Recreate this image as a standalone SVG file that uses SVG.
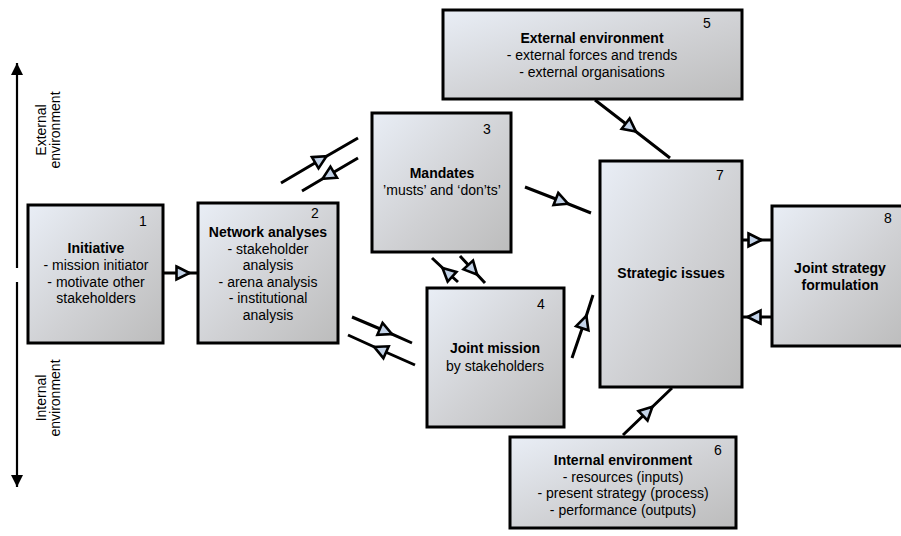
<svg xmlns="http://www.w3.org/2000/svg" width="901" height="536" viewBox="0 0 901 536">
  <style>
    .box { stroke: #000; stroke-width: 3; fill: url(#boxFill); }
    .t { font-family: "Liberation Sans", Arial, sans-serif; font-size: 14px; fill: #000; text-anchor: middle; }
    .b { font-weight: bold; }
    .num { font-family: "Liberation Sans", Arial, sans-serif; font-size: 14px; fill: #000; text-anchor: middle; }
    .side { font-family: "Liberation Sans", Arial, sans-serif; font-size: 14px; fill: #000; text-anchor: middle; }
    .conn { fill: none; stroke: #000; stroke-width: 3; marker-mid: url(#tri); }
    .axis { fill: none; stroke: #000; stroke-width: 2.2; }
  </style>
  <defs>
    <linearGradient id="boxFill" x1="0" y1="0" x2="1" y2="1">
      <stop offset="0" stop-color="#e9eef6"/>
      <stop offset="0.55" stop-color="#d0d1d4"/>
      <stop offset="1" stop-color="#bcbcbc"/>
    </linearGradient>
    <!-- open mid-line arrowhead -->
    <marker id="tri" viewBox="-10 -10 20 20" markerWidth="20" markerHeight="20" refX="0" refY="0" orient="auto" markerUnits="userSpaceOnUse" overflow="visible">
      <path d="M -5.5 -6.5 L 7.5 0 L -5.5 6.5 Z" fill="#c3d3e8" stroke="#000" stroke-width="2.6" stroke-linejoin="miter"/>
    </marker>
    <!-- solid axis arrowhead -->
    <marker id="solid" viewBox="-6 -6 12 12" markerWidth="12" markerHeight="12" refX="0" refY="0" orient="auto" markerUnits="userSpaceOnUse" overflow="visible">
      <path d="M -12 -6 L 0 0 L -12 6 Z" fill="#000"/>
    </marker>
  </defs>

  <!-- environment axis -->
  <g id="axis">
    <path class="axis" d="M 17 268 L 17 63" marker-end="url(#solid)"/>
    <path class="axis" d="M 17 282 L 17 487" marker-end="url(#solid)"/>
    <text class="side" transform="translate(46 130) rotate(-90)">External</text>
    <text class="side" transform="translate(60 130) rotate(-90)">environment</text>
    <text class="side" transform="translate(46 398) rotate(-90)">Internal</text>
    <text class="side" transform="translate(60 398) rotate(-90)">environment</text>
  </g>

  <!-- connectors -->
  <g id="connectors">
    <path class="conn" d="M 163 273 L 182 273 L 198 273"/>
    <path class="conn" d="M 281 183 L 320 160 L 358 138"/>
    <path class="conn" d="M 358 158 L 329 175 L 302 191"/>
    <path class="conn" d="M 525 187 L 561 201 L 591 213"/>
    <path class="conn" d="M 458 282 L 448 273 L 432 258"/>
    <path class="conn" d="M 460 256 L 472 269 L 485 283"/>
    <path class="conn" d="M 352 317 L 385 331 L 412 343"/>
    <path class="conn" d="M 415 365 L 381 350 L 348 335"/>
    <path class="conn" d="M 572 358 L 584 323 L 593 295"/>
    <path class="conn" d="M 595 100 L 630 127 L 670 158"/>
    <path class="conn" d="M 623 435 L 647 412 L 672 388"/>
    <path class="conn" d="M 742 240 L 754 240 L 772 240"/>
    <path class="conn" d="M 772 317 L 755 317 L 742 317"/>
  </g>

  <g id="node1">
    <rect class="box" x="28" y="205" width="135" height="138"/>
    <text class="num" x="143" y="226">1</text>
    <text class="t b" x="96" y="253">Initiative</text>
    <text class="t" x="96" y="270">- mission initiator</text>
    <text class="t" x="96" y="287">- motivate other</text>
    <text class="t" x="96" y="303">stakeholders</text>
  </g>

  <g id="node2">
    <rect class="box" x="198" y="203" width="140" height="140"/>
    <text class="num" x="315" y="218">2</text>
    <text class="t b" x="268" y="237">Network analyses</text>
    <text class="t" x="268" y="254">- stakeholder</text>
    <text class="t" x="268" y="270">analysis</text>
    <text class="t" x="268" y="287">- arena analysis</text>
    <text class="t" x="268" y="303">- institutional</text>
    <text class="t" x="268" y="320">analysis</text>
  </g>

  <g id="node3">
    <rect class="box" x="372" y="113" width="139" height="139"/>
    <text class="num" x="487" y="134">3</text>
    <text class="t b" x="442" y="178">Mandates</text>
    <text class="t" x="442" y="195">’musts’ and ‘don’ts’</text>
  </g>

  <g id="node4">
    <rect class="box" x="427" y="288" width="137" height="139"/>
    <text class="num" x="541" y="309">4</text>
    <text class="t b" x="495" y="353">Joint mission</text>
    <text class="t" x="495" y="371">by stakeholders</text>
  </g>

  <g id="node5">
    <rect class="box" x="443" y="10" width="299" height="89"/>
    <text class="num" x="707" y="28">5</text>
    <text class="t b" x="592" y="43">External environment</text>
    <text class="t" x="592" y="60">- external forces and trends</text>
    <text class="t" x="592" y="77">- external organisations</text>
  </g>

  <g id="node6">
    <rect class="box" x="510" y="437" width="226" height="91"/>
    <text class="num" x="718" y="455">6</text>
    <text class="t b" x="623" y="465">Internal environment</text>
    <text class="t" x="623" y="482">- resources (inputs)</text>
    <text class="t" x="623" y="498">- present strategy (process)</text>
    <text class="t" x="623" y="515">- performance (outputs)</text>
  </g>

  <g id="node7">
    <rect class="box" x="600" y="161" width="142" height="226"/>
    <text class="num" x="720" y="180">7</text>
    <text class="t b" x="671" y="278">Strategic issues</text>
  </g>

  <g id="node8">
    <rect class="box" x="772" y="206" width="136" height="140"/>
    <text class="num" x="888" y="223">8</text>
    <text class="t b" x="840" y="273">Joint strategy</text>
    <text class="t b" x="840" y="290">formulation</text>
  </g>
</svg>
